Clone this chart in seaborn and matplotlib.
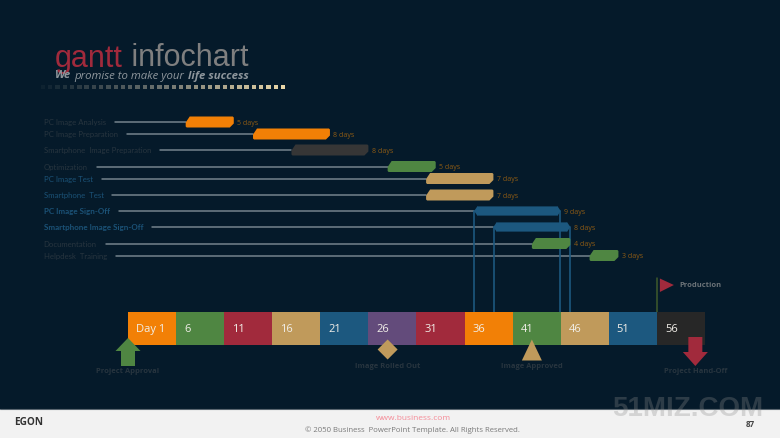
import numpy as np
import pandas as pd
import matplotlib
matplotlib.use("Agg")
import matplotlib.pyplot as plt
import seaborn as sns
from matplotlib.colors import LinearSegmentedColormap

# ---------- data ----------
tasks = ["PC Image Analysis", "PC Image Preparation", "Smartphone  Image Preparation",
         "Optimization", "PC Image Test", "Smartphone  Test", "PC Image Sign-Off",
         "Smartphone Image Sign-Off", "Documentation", "Helpdesk  Training"]
start_day = [7, 14, 18, 28, 32, 32, 37, 39, 43, 49]
duration = [5, 8, 8, 5, 7, 7, 9, 8, 4, 3]
task_kind = ["orange", "orange", "dark", "green", "tan", "tan", "blue", "blue", "green", "green"]
segment_start = [1, 6, 11, 16, 21, 26, 31, 36, 41, 46, 51, 56]
segment_label = ["Day 1", "6", "11", "16", "21", "26", "31", "36", "41", "46", "51", "56"]
segment_kind = ["orange", "green", "red", "tan", "blue", "purple", "red", "orange", "green", "tan", "blue", "black"]
milestones = ["Project Approval", "Image Rolled Out", "Image Approved", "Project Hand-Off"]
milestone_day = [1, 28, 43, 60]
production_day = 56

# ---------- styling ----------
colors = {"orange": "#F28006", "green": "#4F8642", "red": "#A12A3C", "tan": "#C09A5B",
          "blue": "#1C587F", "purple": "#634B7B", "black": "#272727", "dark": "#363636"}
row_y = [123, 135, 151, 167.5, 179.5, 196, 212, 228, 244.5, 256.5]
BG = "#051A2A"
DIM = "#28353F"
BLUE_TXT = "#1B5277"
DUR = "#8E5B14"
FONT = "Open Sans"

sns.set_theme(style="white", rc={"axes.facecolor": BG, "figure.facecolor": BG})
plt.rcParams["font.family"] = [FONT, "DejaVu Sans"]

fig = plt.figure(figsize=(7.8, 4.39), dpi=100)
ax = fig.add_axes([0, 0, 1, 1])
PX = 48.08 / 5          # pixels per day
x0 = 1 - 128 / PX
x1 = x0 + 780 / PX
def set_limits():
    ax.set_xlim(x0, x1)
    ax.set_ylim(439, 0)
set_limits()
ax.set_axis_off()
def p(px):  # pixel width -> days
    return px / PX
def px2day(px):
    return x0 + px / PX

# ---------- footer ----------
ax.axhspan(410, 439, color="#F2F2F2", lw=0, zorder=1)
ax.axhline(410, color="#5A6670", lw=0.8, zorder=1)
ax.text(px2day(14), 423, "EGON", fontsize=7.2, fontweight="bold", color="#333333", va="center", zorder=3)
ax.text(px2day(413), 419, "www.business.com", fontsize=6, color="#F58A96", ha="center", va="center", zorder=3)
ax.text(px2day(412), 430, "\u00a9 2050 Business  PowerPoint Template. All Rights Reserved.",
        fontsize=5.6, color="#7A7A7A", ha="center", va="center", zorder=3)
ax.text(px2day(750), 424.5, "87", fontsize=5.8, fontweight="bold", color="#444444", ha="center", va="center", zorder=3)
ax.text(px2day(688), 409.5, "51MIZ.COM", fontsize=20, fontweight="bold", family="Liberation Sans",
        color="#8C8C8C", alpha=0.3, ha="center", va="center", zorder=2)

# ---------- title ----------
t1 = ax.text(px2day(55), 58.5, "gantt", fontsize=22, family="Liberation Sans", color="#A12A3C", va="center")
fig.canvas.draw()
r = fig.canvas.get_renderer()
e = t1.get_window_extent(r)
ax.text(px2day(e.x1), 58.5, " infochart", fontsize=22, family="Liberation Sans", color="#7F7F7F", va="center")
cx = 55
for s, w in [("We", "bold"), ("promise to make your", "normal"), ("life success", "bold")]:
    t = ax.text(px2day(cx), 76, s, fontsize=8.2, fontstyle="italic", fontweight=w,
                color="#8E969C", va="center")
    cx = t.get_window_extent(r).x1 + 3.2

dot_px = np.linspace(43, 283, 34)
dot_df = pd.DataFrame({"day": px2day(dot_px), "y": 88.0, "t": np.linspace(0, 1, 34)})
cmap = LinearSegmentedColormap.from_list("d", ["#0E2230", "#6E7370", "#EAD7A8"])
sns.scatterplot(data=dot_df, x="day", y="y", hue="t", palette=cmap, marker="s", s=10, linewidth=0,
                legend=False, ax=ax)

# ---------- task rows ----------
conn_rows = []
for i, name in enumerate(tasks):
    is_blue = 4 <= i <= 7
    bold = i in (6, 7)
    t = ax.text(px2day(43.5), row_y[i], name, fontsize=5.75 if bold else 5.6, family="Lato",
                color=BLUE_TXT if is_blue else DIM,
                fontweight="bold" if bold else "normal", va="center")
    end_px = t.get_window_extent(r).x1 + 9
    conn_rows.append({"task": name, "day": px2day(end_px), "y": row_y[i]})
    conn_rows.append({"task": name, "day": start_day[i], "y": row_y[i]})
conn = pd.DataFrame(conn_rows)
sns.lineplot(data=conn, x="day", y="y", units="task", estimator=None, color="#75838C", lw=1.1,
             legend=False, ax=ax, zorder=2, sort=False)

for i, name in enumerate(tasks):
    a, b = start_day[i], start_day[i] + duration[i]
    y = row_y[i]
    k = task_kind[i]
    c = colors[k]
    if k == "blue":
        h, s = 4.6, p(3.5)
        xs = [a, a + s, a + s, b - s, b - s, b, b - s, b - s, a + s, a + s]
        ys = [y, y - h - 0.6, y - h, y - h, y - h - 0.6, y, y + h + 0.6, y + h, y + h, y + h + 0.6]
        ax.plot([a + p(0.3)] * 2, [y, 313], color="#1C587F", lw=1.2, zorder=2)
        ax.plot([b - p(0.3)] * 2, [y, 313], color="#1C587F", lw=1.2, zorder=2)
    else:
        h, s, m = 5.5, p(4), p(1)
        xs = [a + s, b - m, b, b, b - s, a + m, a, a]
        ys = [y - h, y - h, y - h + 1, y + h - 4, y + h, y + h, y + h - 1, y + h - 5]
    ax.fill(xs, ys, color=c, lw=0, zorder=4)
    ax.text(b + p(3.5), y + 0.5, f"{duration[i]} days", fontsize=5, color=DUR, va="center", zorder=4)

# ---------- timeline ----------
bar_h = 33
for s, lab, k in zip(segment_start, segment_label, segment_kind):
    sns.barplot(x=[5], y=[329.5], orient="y", native_scale=True, left=s, width=bar_h, color=colors[k],
                saturation=1, linewidth=0, ax=ax, zorder=3, errorbar=None)
    ax.text(s + p(8), 329.5, lab, fontsize=8, color="#F1EEE8", va="center", zorder=5)
set_limits()
ax.set_axis_off()

# ---------- milestones ----------
d = milestone_day
mc = [colors["green"], colors["tan"], colors["tan"], colors["red"]]
# up arrow
ax.fill([d[0], d[0] + p(12.5), d[0] + p(7), d[0] + p(7), d[0] - p(7), d[0] - p(7), d[0] - p(12.5)],
        [339, 352, 352, 367, 367, 352, 352], color=mc[0], lw=0, zorder=6)
# diamond
ax.fill([d[1], d[1] + p(10), d[1], d[1] - p(10)], [340.5, 350.5, 360.5, 350.5], color=mc[1], lw=0, zorder=6)
# triangle
ax.fill([d[2], d[2] + p(10), d[2] - p(10)], [340.5, 361.5, 361.5], color=mc[2], lw=0, zorder=6)
# down arrow
ax.fill([d[3] - p(7), d[3] + p(7), d[3] + p(7), d[3] + p(12.5), d[3], d[3] - p(12.5), d[3] - p(7)],
        [338, 338, 353, 353, 367, 353, 353], color=mc[3], lw=0, zorder=6)
for day, lab, y in zip(d, milestones, [372, 367, 367, 372]):
    ax.text(day, y, lab, fontsize=5.4, fontweight="bold", color=DIM, ha="center", va="center", zorder=6)

# production flag
ax.plot([production_day] * 2, [279, 313], color="#3F5A2C", lw=1.1, zorder=2)
ax.fill([production_day + p(3), production_day + p(17), production_day + p(3)], [279.5, 286, 293],
        color=colors["red"], lw=0, zorder=4)
ax.text(production_day + p(22), 286, "Production", fontsize=5.4, fontweight="bold", color="#6C7378", va="center")

set_limits()
fig.savefig("out.png", dpi=100, facecolor=BG)
